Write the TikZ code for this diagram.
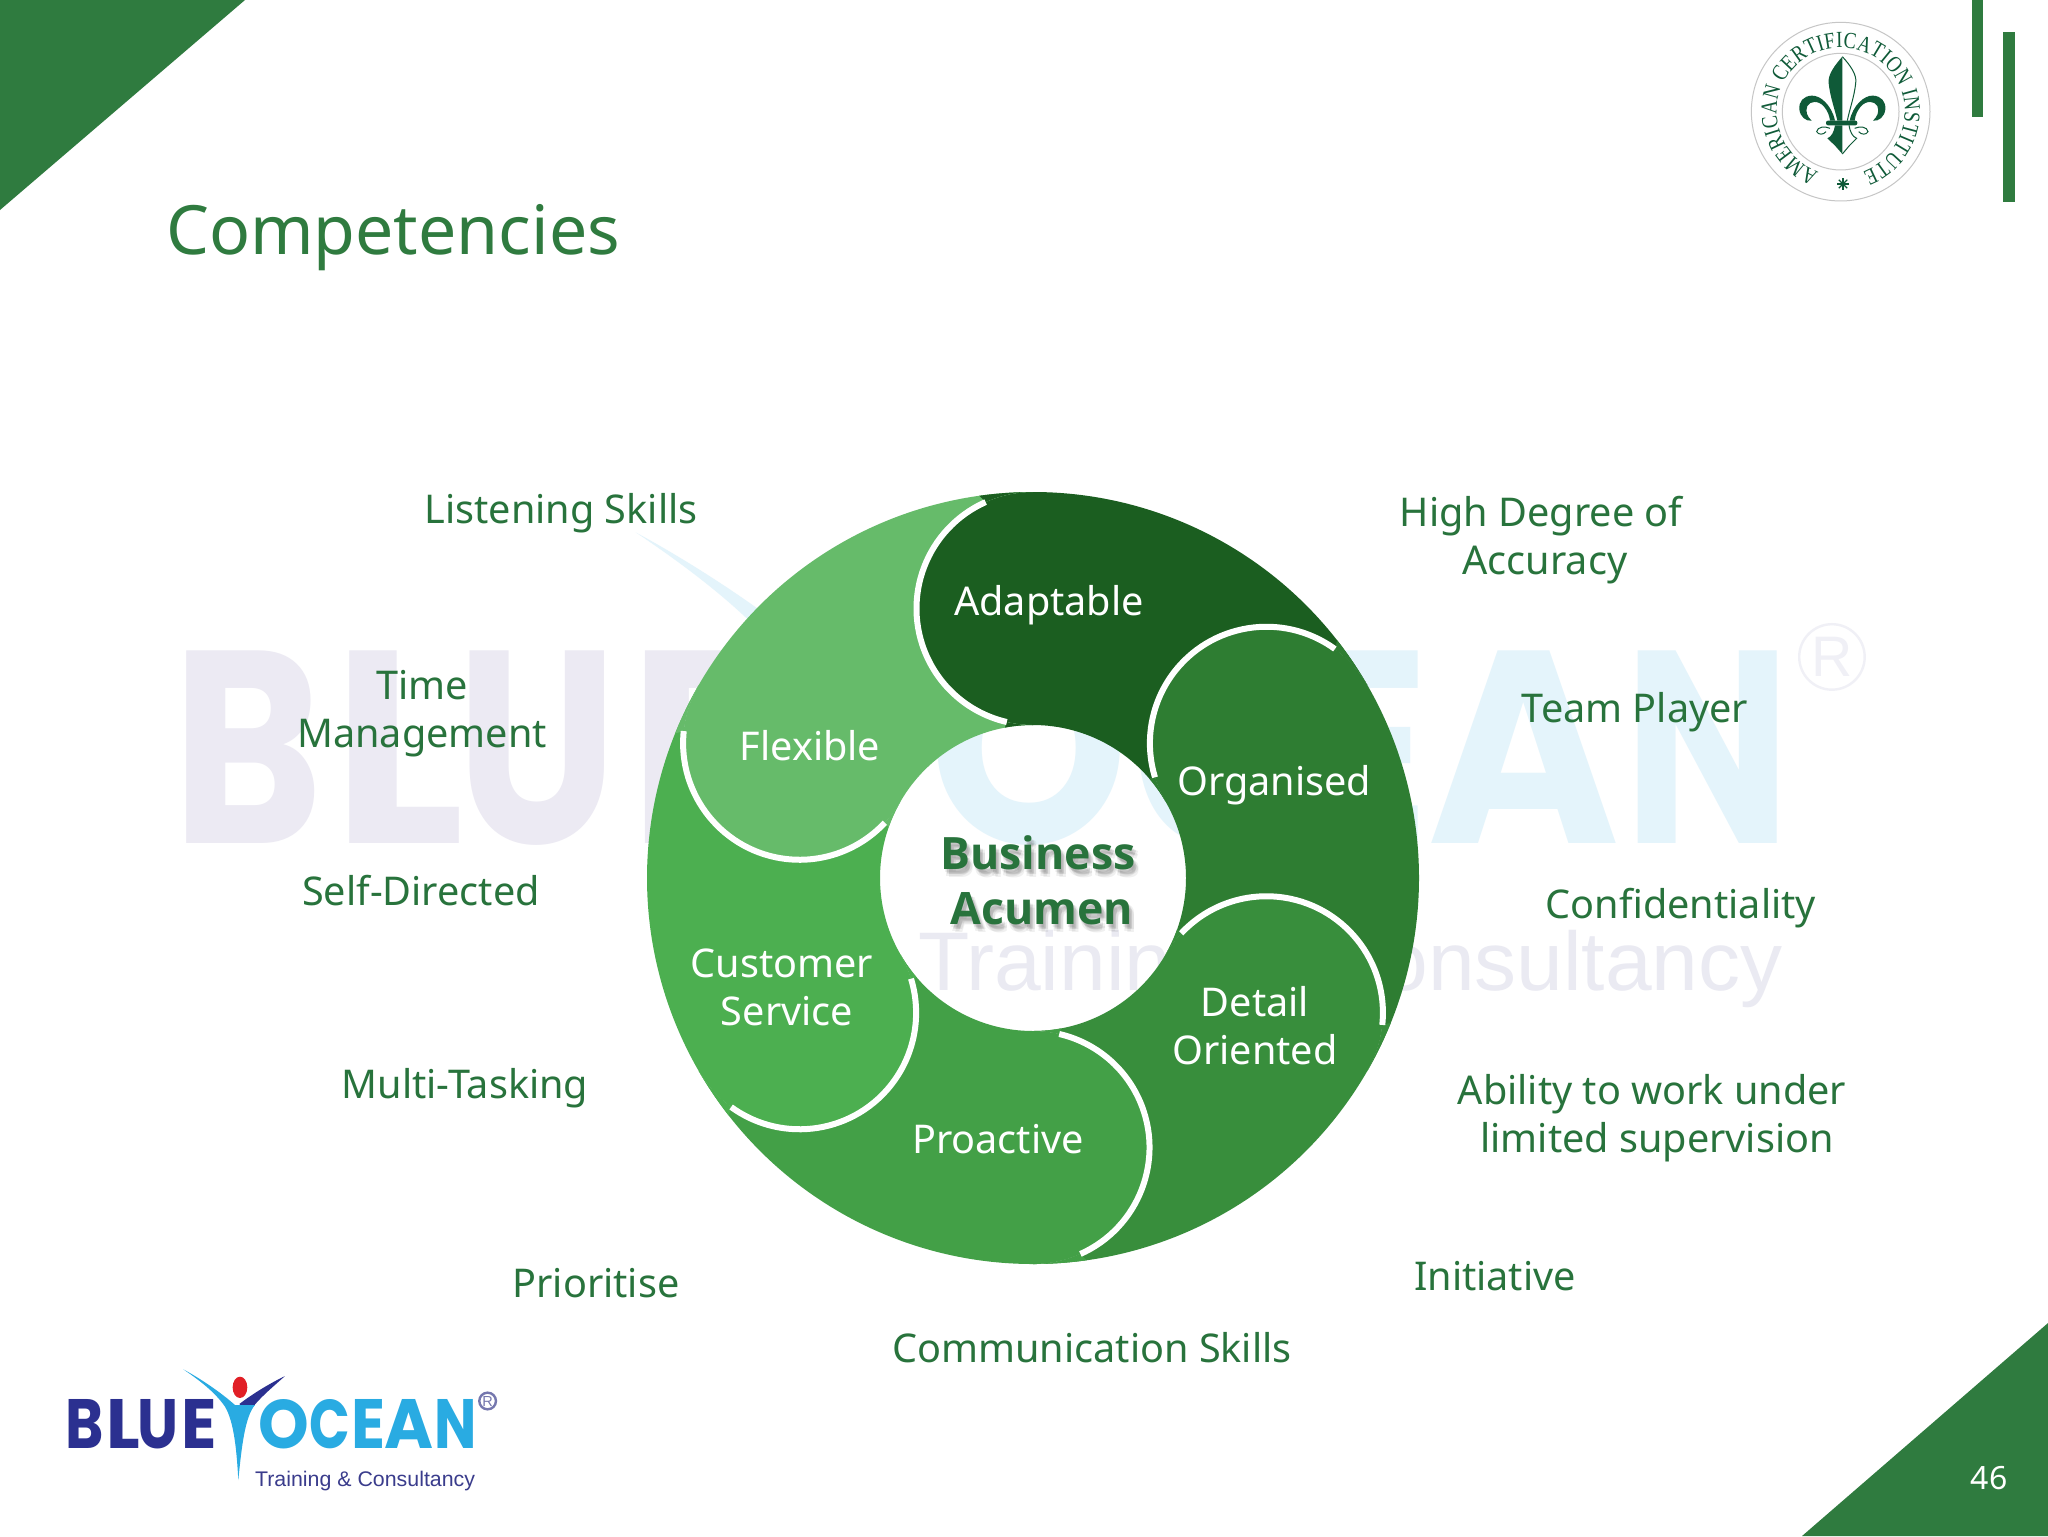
\documentclass[tikz,border=0pt]{standalone}
\usepackage{fontspec}
\usepackage{graphicx}
\usetikzlibrary{decorations.text}
\setmainfont{Noto Sans}
\newfontfamily\bizfont{Open Sans}
\newfontfamily\logofont{Poppins}
\newfontfamily\logothin{Liberation Sans}
\newfontfamily\sealfont[FakeStretch=0.82]{Liberation Serif}
\definecolor{brand}{HTML}{2F7B3F}
\definecolor{lbl}{HTML}{28733C}
\definecolor{sealg}{HTML}{0F5A38}
\definecolor{ga}{HTML}{1B5E20}
\definecolor{gb}{HTML}{2E7D32}
\definecolor{gc}{HTML}{388E3C}
\definecolor{gd}{HTML}{43A047}
\definecolor{ge}{HTML}{4CAF50}
\definecolor{gf}{HTML}{66BB6A}
\definecolor{wmA}{HTML}{ECEAF3}
\definecolor{wmB}{HTML}{E4F4FB}
\definecolor{wmC}{HTML}{EAEAF2}
\definecolor{loA}{HTML}{2B3090}
\definecolor{loB}{HTML}{29ABE2}
\definecolor{loC}{HTML}{3A3C8C}
\definecolor{loR}{HTML}{E11F26}
\tikzset{
  outlbl/.style={inner sep=0pt,text=lbl,font=\fontsize{19.8}{24}\selectfont,align=center},
  inlbl/.style={inner sep=0pt,text=white,font=\fontsize{19.8}{24}\selectfont,align=center},
  bizlbl/.style={inner sep=0pt,font=\bizfont\fontsize{22.3}{27.5}\selectfont\bfseries,align=center},
  lg/.style={inner sep=0pt,transform shape},
}
\newcommand{\lt}[2]{\kern-3pt\resizebox{\dimexpr#1pt+6pt\relax}{73.5pt}{\logofont\bfseries #2}\kern-3pt}
\newcommand{\bluelogo}[9]{%
 \begin{scope}[shift={(#2,#3)},scale=#4]
  \node[lg,anchor=south west,text=#5] (#1blue) at (82,297) {\lt{51.5}{B}\kern9.5pt\lt{44.5}{L}\kern3pt\lt{55.5}{U}\kern10.5pt\lt{47}{E}};
  \node[lg,anchor=south west,text=#6] (#1ocean) at (660,297) {\lt{70}{O}\kern7.5pt\lt{55}{C}\kern7.5pt\lt{45}{E}\kern5pt\lt{67.5}{A}\kern7.5pt\lt{57.5}{N}};
  \node[lg,anchor=base west,text=#7] (#1sub) at (645,408) {\resizebox{330pt}{23pt}{\logothin Training \& Consultancy}};
  \draw[#7!70!white,line width=1.2pt] (1343,153) circle[radius=25];
  \node[lg,text=#7!70!white] (#1r) at (1343,153) {\resizebox{!}{15pt}{\logothin R}};
  \fill[#8] (735,78) .. controls (690,100) and (640,130) .. (598,162) -- (625,190) .. controls (650,150) and (700,110) .. (735,78) -- cycle;
  \fill[#6] (430,58) .. controls (480,85) and (540,125) .. (585,165) -- (645,165) .. controls (615,200) and (605,290) .. (595,390) .. controls (590,300) and (582,215) .. (555,170) .. controls (525,125) and (470,85) .. (430,58) -- cycle;
  \fill[#9] (600,112) ellipse[x radius=22,y radius=32];
 \end{scope}}
\begin{document}
\begin{tikzpicture}[x=0.5pt,y=-0.5pt]
\useasboundingbox (0,0) rectangle (2048,1536);
\fill[white] (0,0) rectangle (2048,1536);
% watermark
\bluelogo{w}{72.6}{456.5}{1.31}{wmA}{wmB}{wmC}{wmB}{wmA}
% corners and bars
\fill[brand] (0,0) -- (245,0) -- (0,210) -- cycle;
\fill[brand] (2048,1323) -- (2048,1536) -- (1802,1536) -- cycle;
\fill[brand] (1972,0) rectangle (1983,117);
\fill[brand] (2003,32) rectangle (2015,202);
% title and page
\node[inner sep=0pt,text=brand,font=\fontsize{34}{40}\selectfont] (title) at (393,238) {Competencies};
\node[inner sep=0pt,text=white,font=\fontsize{16}{20}\selectfont] (page) at (1989,1478) {46};
% swirl
\begin{scope}[shift={(1033,878)}]
 \foreach \i/\c in {0/ga,1/gb,2/gc,3/gd,4/ge,5/gf}{
  \pgfmathsetmacro\aa{-90+60*\i}
  \pgfmathsetmacro\bb{\aa+60}
  \pgfmathsetmacro\cc{\aa+180}
  \fill[\c] (\aa:386) arc[start angle=\aa,delta angle=60,radius=386]
     arc[start angle=\bb,delta angle=-180,radius=116.5]
     arc[start angle=\bb,delta angle=-60,radius=153]
     arc[start angle=\cc,delta angle=180,radius=116.5] -- cycle;
 }
 \foreach \i/\c in {0/ga,1/gb,2/gc,3/gd,4/ge,5/gf}{
  \pgfmathsetmacro\aa{-90+60*\i}
  \pgfmathsetmacro\da{\aa-8}
  \pgfmathsetmacro\db{\aa-10.6}
  \pgfmathsetmacro\cc{\aa+180}
  \fill[\c] (\da:386) arc[start angle=\da,delta angle=8,radius=386]
     arc[start angle=\aa,delta angle=-24,radius=116.5] -- cycle;
  \fill[\c] (\aa:153) arc[start angle=\cc,delta angle=13,radius=116.5]
     -- (\db:153) arc[start angle=\db,delta angle=10.6,radius=153] -- cycle;
 }
 \foreach \i in {0,...,5}{
  \pgfmathsetmacro\aa{-90+60*\i}
  \pgfmathsetmacro\sa{\aa-24}
  \draw[white,line width=3pt] (\aa:386) ++(\aa+180:116.5) ++(\sa:116.5) arc[start angle=\sa,delta angle=-143,radius=116.5];
 }
\end{scope}
% inner labels
\node[inlbl] (adapt) at (1049,605) {Adaptable};
\node[inlbl] (flex) at (810,746) {Flexible};
\node[inlbl] (org) at (1274,785) {Organised};
\node[inlbl] (cust) at (782,987) {Customer\\\hspace{5pt}Service};
\node[inlbl] (detail) at (1255,1026) {Detail\\Oriented};
\node[inlbl] (proact) at (998,1139) {Proactive};
% centre
\foreach \dx/\dy [count=\n] in {1/3,3/5,5/5,2/7,5/8,3/4}{
 \node[bizlbl,text=black,text opacity=.06] (bizshadow\n) at (1038+\dx,880+\dy) {Business\\\hspace{4pt}Acumen};
}
\node[bizlbl,text=lbl] (biz) at (1038,880) {Business\\\hspace{4pt}Acumen};
% outer labels
\node[outlbl] (listen) at (561,513) {Listening Skills};
\node[outlbl] (high) at (1541,540) {High Degree of\\\hspace{4pt}Accuracy};
\node[outlbl] (time) at (422,714) {Time\\Management};
\node[outlbl] (team) at (1635,712) {Team Player};
\node[outlbl] (self) at (421,891) {Self-Directed};
\node[outlbl] (conf) at (1681,908) {Confidentiality};
\node[outlbl] (multi) at (465,1088) {Multi-Tasking};
\node[outlbl] (abil) at (1652,1118) {Ability to work under\\\hspace{5pt}limited supervision};
\node[outlbl] (prio) at (596,1283) {Prioritise};
\node[outlbl] (init) at (1495,1276) {Initiative};
\node[outlbl] (comm) at (1092,1348) {Communication Skills};
% logo
\bluelogo{l}{40}{1350}{0.3333}{loA}{loB}{loC}{loA}{loR}
% seal
\begin{scope}[shift={(1720,0)},scale=0.3333]
 \draw[gray!45,line width=.5pt] (362,335) circle[radius=268];
 \draw[gray!45,line width=.5pt] (362,335) circle[radius=175];
 \path[decorate,decoration={text along path,text align=fit to path,
   text={|\fontsize{11.5}{12}\sealfont\color{sealg}|AMERICAN CERTIFICATION INSTITUTE}}]
   (362,335) ++(110:192) arc[start angle=110,delta angle=320,radius=192];
 \fill[sealg] (367,170) .. controls (345,195) and (322,225) .. (326,250) .. controls (330,290) and (345,330) .. (352,362) -- (367,362) -- cycle;
 \draw[sealg,line width=.5pt] (367,170) .. controls (390,195) and (412,225) .. (407,250) .. controls (403,290) and (388,330) .. (382,362);
 \fill[sealg] (345,362) .. controls (335,315) and (300,285) .. (275,287) .. controls (250,288) and (236,305) .. (238,328) .. controls (240,350) and (258,365) .. (275,362) .. controls (262,350) and (255,335) .. (262,318) .. controls (270,303) and (295,300) .. (312,320) .. controls (322,332) and (328,345) .. (330,362) -- cycle;
 \begin{scope}[shift={(734,0)},xscale=-1]
 \fill[sealg] (345,362) .. controls (335,315) and (300,285) .. (275,287) .. controls (250,288) and (236,305) .. (238,328) .. controls (240,350) and (258,365) .. (275,362) .. controls (262,350) and (255,335) .. (262,318) .. controls (270,303) and (295,300) .. (312,320) .. controls (322,332) and (328,345) .. (330,362) -- cycle;
 \draw[sealg,line width=.5pt] (330,385) .. controls (315,378) and (292,380) .. (290,395) .. controls (295,405) and (310,405) .. (318,395);
 \end{scope}
 \draw[sealg,line width=.5pt] (330,385) .. controls (315,378) and (292,380) .. (290,395) .. controls (295,405) and (310,405) .. (318,395);
 \fill[sealg,rounded corners=1pt] (318,362) rectangle (412,376);
 \fill[sealg] (345,376) -- (367,376) -- (367,462) -- (345,437) -- (322,415) .. controls (335,410) and (342,395) .. (345,376) -- cycle;
 \draw[sealg,line width=.5pt] (367,462) -- (388,437) -- (410,415) .. controls (397,410) and (390,395) .. (387,376);
 \foreach \t in {0,45,...,315}{\draw[sealg,line width=.6pt] (369,552) -- ++(\t:18);}
\end{scope}
\end{tikzpicture}
\end{document}
